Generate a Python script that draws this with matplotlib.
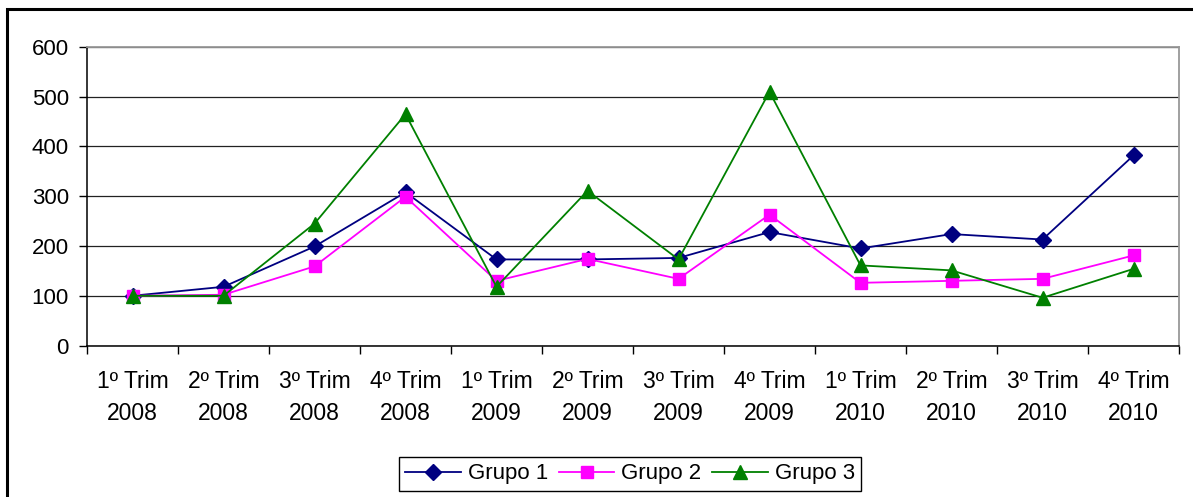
import matplotlib
matplotlib.use("Agg")
import matplotlib.pyplot as plt
from matplotlib.patches import Rectangle

plt.rcParams["font.family"] = ["Liberation Sans", "DejaVu Sans"]

# Trimestres e índices por grupo
trimestres = ["1º Trim\n2008", "2º Trim\n2008", "3º Trim\n2008", "4º Trim\n2008",
              "1º Trim\n2009", "2º Trim\n2009", "3º Trim\n2009", "4º Trim\n2009",
              "1º Trim\n2010", "2º Trim\n2010", "3º Trim\n2010", "4º Trim\n2010"]
grupo1 = [100, 118, 199, 308, 173, 173, 176, 228, 195, 224, 213, 382]
grupo2 = [100, 102, 159, 299, 130, 174, 134, 263, 126, 130, 134, 181]
grupo3 = [100, 100, 245, 465, 118, 311, 173, 510, 161, 151, 96, 154]
yticks = [0, 100, 200, 300, 400, 500, 600]

W, H = 1193, 497
fig = plt.figure(figsize=(W / 100, H / 100), dpi=100)

# moldura externa do gráfico
fig.patches.append(Rectangle((7 / W, -0.1), 1.2, 1 - 9 / H + 0.1,
                             transform=fig.transFigure, fill=False,
                             edgecolor="black", linewidth=2.2))

ax = fig.add_axes([87 / W, 1 - 345.5 / H, (1179 - 87) / W, (345.5 - 47) / H])

x = list(range(len(trimestres)))
ax.plot(x, grupo1, color="#000080", marker="D", markersize=8.5, linewidth=1.3,
        label="Grupo 1")
ax.plot(x, grupo2, color="#FF00FF", marker="s", markersize=8.5, linewidth=1.3,
        label="Grupo 2")
ax.plot(x, grupo3, color="#008000", marker="^", markersize=10, linewidth=1.3,
        label="Grupo 3")

ax.set_xlim(-0.5, len(trimestres) - 0.5)
ax.set_ylim(0, 600)
ax.set_yticks(yticks)
ax.yaxis.grid(True, color="#222222", linewidth=0.9)
ax.set_axisbelow(True)

ax.set_xticks([i - 0.5 for i in range(len(trimestres) + 1)])
ax.set_xticklabels([])
ax.set_xticks(x, minor=True)
ax.set_xticklabels(trimestres, minor=True, fontsize=16.5, linespacing=1.5)
ax.tick_params(axis="x", which="major", direction="out", length=6, width=1)
ax.tick_params(axis="x", which="minor", length=0, pad=18)
ax.tick_params(axis="y", direction="out", length=6, width=1, labelsize=16, pad=7)

for s in ["top", "right"]:
    ax.spines[s].set_color("#999999")
    ax.spines[s].set_linewidth(1.3)
for s in ["left", "bottom"]:
    ax.spines[s].set_color("black")
    ax.spines[s].set_linewidth(1.1)

leg = fig.legend(loc="center", bbox_to_anchor=(630 / W, 1 - 474 / H), ncol=3,
                 fontsize=16, frameon=True, fancybox=False, edgecolor="black",
                 framealpha=1, handlelength=2.5, handletextpad=0.3,
                 columnspacing=0.5, borderpad=0.3)
leg.get_frame().set_linewidth(1.0)

fig.savefig("out.png", dpi=100)
